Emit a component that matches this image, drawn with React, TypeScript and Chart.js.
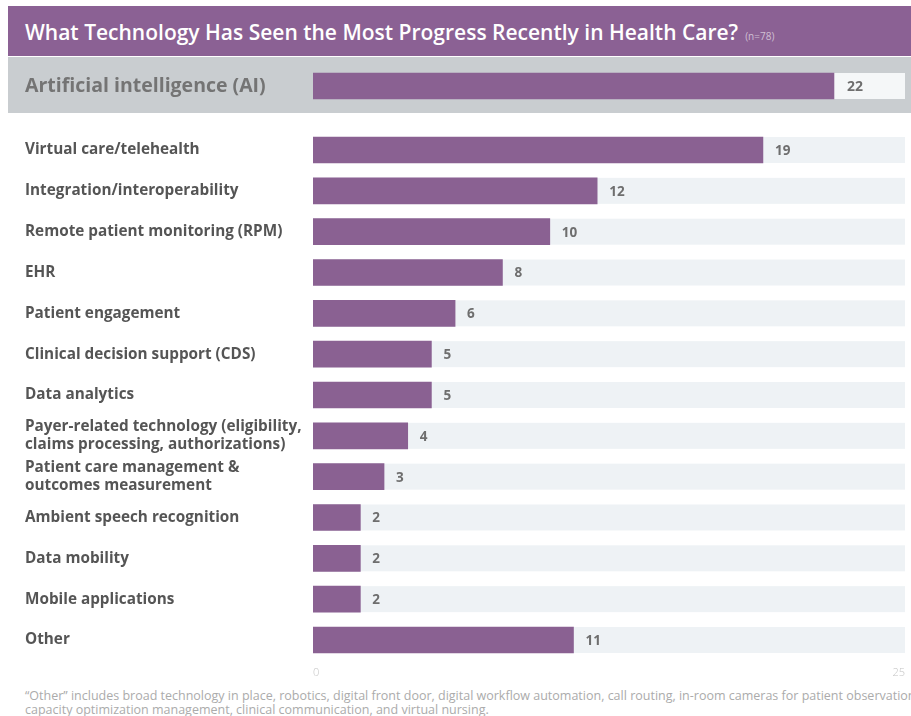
import React, { useEffect, useRef } from "react";
import { Chart, registerables } from "chart.js";
Chart.register(...registerables);

const TITLE = "What Technology Has Seen the Most Progress Recently in Health Care?";
const SAMPLE = "(n=78)";
const highlightLabels = ["Artificial intelligence (AI)"];
const highlightValues = [22];
const categories: (string | string[])[] = [
  "Virtual care/telehealth",
  "Integration/interoperability",
  "Remote patient monitoring (RPM)",
  "EHR",
  "Patient engagement",
  "Clinical decision support (CDS)",
  "Data analytics",
  ["Payer-related technology (eligibility,", "claims processing, authorizations)"],
  ["Patient care management &", "outcomes measurement"],
  "Ambient speech recognition",
  "Data mobility",
  "Mobile applications",
  "Other",
];
const values = [19, 12, 10, 8, 6, 5, 5, 4, 3, 2, 2, 2, 11];
const axisMin = 0;
const axisMax = 25;
const FOOTNOTE = [
  "\u201cOther\u201d includes broad technology in place, robotics, digital front door, digital workflow automation, call routing, in-room cameras for patient observation,",
  "capacity optimization management, clinical communication, and virtual nursing.",
];

const PURPLE = "#8a6192";
const FONT = "'Open Sans', 'DejaVu Sans', sans-serif";

const trackPlugin = {
  id: "trackAndValues",
  beforeDatasetsDraw(chart: any, _a: any, opts: any) {
    const ctx = chart.ctx;
    const meta = chart.getDatasetMeta(0);
    const area = chart.chartArea;
    ctx.save();
    ctx.fillStyle = opts.trackColor;
    meta.data.forEach((bar: any) => {
      const p = bar.getProps(["y", "height"], true);
      ctx.fillRect(area.left, p.y - p.height / 2, area.right - area.left, p.height);
    });
    ctx.restore();
  },
  afterDatasetsDraw(chart: any, _a: any, opts: any) {
    const ctx = chart.ctx;
    const meta = chart.getDatasetMeta(0);
    const data = chart.data.datasets[0].data;
    ctx.save();
    ctx.fillStyle = opts.valueColor;
    ctx.font = opts.valueFont;
    ctx.textAlign = "left";
    ctx.textBaseline = "middle";
    meta.data.forEach((bar: any, i: number) => {
      const p = bar.getProps(["x", "y"], true);
      ctx.fillText(String(data[i]), p.x + opts.offset, p.y + 1);
    });
    ctx.restore();
  },
};

type BarProps = {
  labels: (string | string[])[];
  data: number[];
  width: number;
  height: number;
  top: number;
  padTop: number;
  axisHeight: number;
  showX: boolean;
  labelFont: any;
  labelColor: string;
  trackColor: string;
  valueFont: string;
  offset: number;
};

function BarChart(props: BarProps) {
  const ref = useRef<HTMLCanvasElement | null>(null);
  useEffect(() => {
    if (!ref.current) return;
    const chart = new Chart(ref.current, {
      type: "bar",
      data: {
        labels: props.labels as any,
        datasets: [
          {
            data: props.data,
            backgroundColor: PURPLE,
            borderWidth: 0,
            barThickness: 26,
          },
        ],
      },
      options: {
        indexAxis: "y",
        responsive: false,
        animation: false,
        layout: { padding: { left: 25, right: 6, top: props.padTop, bottom: 0 } },
        plugins: {
          legend: { display: false },
          tooltip: { enabled: false },
          trackAndValues: {
            trackColor: props.trackColor,
            valueColor: "#6e6e6e",
            valueFont: props.valueFont,
            offset: props.offset,
          },
        } as any,
        scales: {
          x: {
            display: props.showX,
            min: axisMin,
            max: axisMax,
            grid: { display: false, drawTicks: false },
            border: { display: false },
            ticks: {
              stepSize: axisMax - axisMin,
              align: "inner",
              color: "#c4c4c4",
              font: { family: FONT, size: 11, weight: 300 as any },
              padding: 6,
            },
            afterFit: (s: any) => {
              s.height = props.axisHeight;
            },
          },
          y: {
            grid: { display: false, drawTicks: false },
            border: { display: false },
            ticks: {
              crossAlign: "far",
              color: props.labelColor,
              font: props.labelFont,
              padding: 0,
            },
            afterFit: (s: any) => {
              s.width = 313 - 25;
            },
          },
        },
      },
      plugins: [trackPlugin],
    });
    return () => chart.destroy();
  }, []);
  return (
    <canvas
      ref={ref}
      width={props.width}
      height={props.height}
      style={{ position: "absolute", left: 0, top: props.top, width: props.width, height: props.height }}
    />
  );
}

export default function App() {
  useEffect(() => {
    document.body.style.margin = "0";
  }, []);
  return (
    <div
      style={{
        position: "relative",
        width: 911,
        height: 716,
        overflow: "hidden",
        background: "#ffffff",
        fontFamily: FONT,
      }}
    >
      <div
        style={{
          position: "absolute",
          left: 8,
          top: 6,
          width: 903,
          height: 50,
          background: "#8b6194",
        }}
      >
        <div
          style={{
            position: "absolute",
            left: 17,
            top: 1,
            lineHeight: "50px",
            fontSize: 21,
            fontWeight: 600,
            color: "#ffffff",
            whiteSpace: "nowrap",
          }}
        >
          {TITLE}
          <span style={{ fontSize: 10, fontWeight: 400, color: "rgba(255,255,255,0.6)", marginLeft: 7 }}>
            {SAMPLE}
          </span>
        </div>
      </div>
      <div
        style={{
          position: "absolute",
          left: 8,
          top: 57,
          width: 903,
          height: 56,
          background: "#c9cdd0",
        }}
      />
      <BarChart
        labels={highlightLabels}
        data={highlightValues}
        width={911}
        height={56}
        top={58}
        padTop={0}
        axisHeight={0}
        showX={false}
        labelFont={{ family: FONT, size: 19.5, weight: "bold" }}
        labelColor="#747474"
        trackColor="#f5f7f8"
        valueFont={`bold 14px ${FONT}`}
        offset={13}
      />
      <BarChart
        labels={categories}
        data={values}
        width={911}
        height={560}
        top={120}
        padTop={9.6}
        axisHeight={19.6}
        showX={true}
        labelFont={{ family: FONT, size: 15.3, weight: "bold", lineHeight: 1.15 }}
        labelColor="#555555"
        trackColor="#eef2f5"
        valueFont={`bold 13.5px ${FONT}`}
        offset={12}
      />
      <div
        style={{
          position: "absolute",
          left: 25,
          top: 689,
          fontSize: 12.5,
          lineHeight: "14px",
          color: "#ababab",
          whiteSpace: "nowrap",
        }}
      >
        {FOOTNOTE[0]}
        <br />
        {FOOTNOTE[1]}
      </div>
    </div>
  );
}
